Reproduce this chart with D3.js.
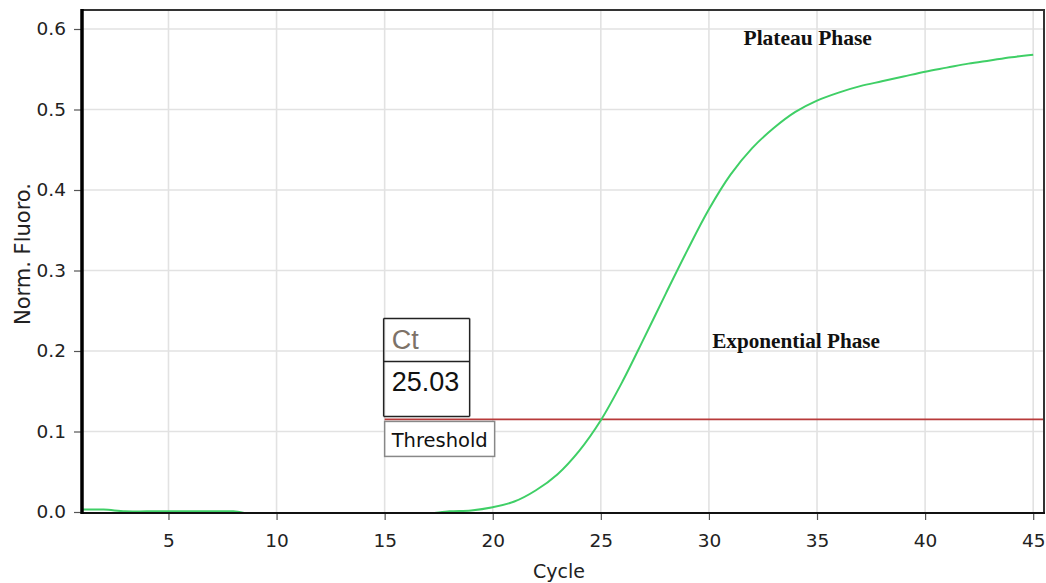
<!DOCTYPE html>
<html>
<head>
<meta charset="utf-8">
<script src="https://cdn.jsdelivr.net/npm/d3@7"></script>
<style>
  html, body { margin: 0; padding: 0; background: #fff; }
  svg { display: block; }
</style>
</head>
<body>
<svg id="chart" width="1046" height="583"></svg>
<script>
// ---- data ----
const cycles = d3.range(1, 46);
const fluoro = [
  0.003, 0.003, 0.0008, 0.0008, 0.0008, 0.0008, 0.0008, 0.0008, -0.003, -0.003,
  -0.003, -0.003, -0.003, -0.003, -0.003, -0.003, -0.002, 0.0008, 0.002, 0.006,
  0.013, 0.027, 0.047, 0.076, 0.114, 0.162, 0.216, 0.271, 0.325, 0.376,
  0.419, 0.452, 0.477, 0.497, 0.511, 0.521, 0.529, 0.535, 0.541, 0.547,
  0.552, 0.557, 0.561, 0.565, 0.568
];
const xTicks = [5, 10, 15, 20, 25, 30, 35, 40, 45];
const yTicks = [0.0, 0.1, 0.2, 0.3, 0.4, 0.5, 0.6];
const threshold = 0.115;
const thresholdStart = 15;
const ctValue = "25.03";
const phaseLabels = [
  { text: "Plateau Phase", cycle: 31.6, value: 0.580, size: 21.5 },
  { text: "Exponential Phase", cycle: 30.15, value: 0.2035, size: 21.2 }
];

// ---- layout ----
const svg = d3.select("#chart");
const L = 82, R = 1044, T = 10, B = 512;
const x = d3.scaleLinear().domain([1, 45.5]).range([L, R]);
const y = d3.scaleLinear().domain([0, 0.6236]).range([B, T]);

// gridlines
svg.append("g").selectAll("line").data(xTicks).join("line")
  .attr("x1", d => x(d)).attr("x2", d => x(d))
  .attr("y1", T).attr("y2", B)
  .attr("stroke", "#e2e2e2").attr("stroke-width", 1.6);
svg.append("g").selectAll("line").data(yTicks.filter(d => d > 0)).join("line")
  .attr("x1", L).attr("x2", R)
  .attr("y1", d => y(d)).attr("y2", d => y(d))
  .attr("stroke", "#e2e2e2").attr("stroke-width", 1.6);

// clip
svg.append("clipPath").attr("id", "clip").append("rect")
  .attr("x", L).attr("y", T).attr("width", R - L).attr("height", B - T);

// threshold line
svg.append("line")
  .attr("x1", x(thresholdStart)).attr("x2", R)
  .attr("y1", y(threshold)).attr("y2", y(threshold))
  .attr("stroke", "#b83a3a").attr("stroke-width", 1.6);

// curve
const pts = cycles.map((c, i) => [c, fluoro[i]]);
svg.append("path")
  .datum(pts)
  .attr("clip-path", "url(#clip)")
  .attr("fill", "none")
  .attr("stroke", "#3fcf66")
  .attr("stroke-width", 2)
  .attr("d", d3.line().x(d => x(d[0])).y(d => y(d[1])).curve(d3.curveCatmullRom.alpha(0.5)));

// axes
const xAxis = d3.axisBottom(x).tickValues(xTicks).tickSize(7).tickPadding(14)
  .tickFormat(d3.format("d"));
const gx = svg.append("g").attr("transform", `translate(0,${B + 1})`).call(xAxis);
gx.select(".domain").remove();
gx.selectAll("line").attr("stroke", "#555").attr("stroke-width", 1.2);
gx.selectAll("text").attr("font-family", "DejaVu Sans").attr("font-size", 18.5).attr("fill", "#222");

const yAxis = d3.axisLeft(y).tickValues(yTicks).tickSize(7).tickPadding(8)
  .tickFormat(d3.format(".1f"));
const gy = svg.append("g").attr("transform", `translate(${L - 1},0)`).call(yAxis);
gy.select(".domain").remove();
gy.selectAll("line").attr("stroke", "#555").attr("stroke-width", 1.2);
gy.selectAll("text").attr("font-family", "DejaVu Sans").attr("font-size", 18.5).attr("fill", "#222");

// frame
svg.append("line").attr("x1", L).attr("x2", R + 1).attr("y1", T).attr("y2", T)
  .attr("stroke", "#333").attr("stroke-width", 2);
svg.append("line").attr("x1", R).attr("x2", R).attr("y1", T).attr("y2", B + 1)
  .attr("stroke", "#333").attr("stroke-width", 2);
svg.append("line").attr("x1", L).attr("x2", R + 1).attr("y1", B + 1).attr("y2", B + 1)
  .attr("stroke", "#111").attr("stroke-width", 2);
svg.append("line").attr("x1", L).attr("x2", L).attr("y1", T - 1).attr("y2", B + 2)
  .attr("stroke", "#000").attr("stroke-width", 3.5);

// axis titles
svg.append("text").attr("x", (L + R) / 2 - 4).attr("y", 578)
  .attr("text-anchor", "middle").attr("font-family", "DejaVu Sans").attr("font-size", 19)
  .attr("fill", "#222").text("Cycle");
svg.append("text").attr("transform", "translate(30,254) rotate(-90)")
  .attr("text-anchor", "middle").attr("font-family", "DejaVu Sans").attr("font-size", 21)
  .attr("fill", "#222").text("Norm. Fluoro.");

// Ct box
const bx = x(thresholdStart) - 1, bw = 86;
const yBot = y(threshold) - 3, yMid = yBot - 55, yTop = yBot - 98;
const ct = svg.append("g");
ct.append("line").attr("x1", bx).attr("x2", bx + bw).attr("y1", yTop).attr("y2", yTop).attr("stroke", "#222").attr("stroke-width", 1.5);
ct.append("line").attr("x1", bx).attr("x2", bx + bw).attr("y1", yMid).attr("y2", yMid).attr("stroke", "#222").attr("stroke-width", 1.5);
ct.append("line").attr("x1", bx).attr("x2", bx + bw).attr("y1", yBot).attr("y2", yBot).attr("stroke", "#222").attr("stroke-width", 1.5);
ct.append("line").attr("x1", bx).attr("x2", bx).attr("y1", yTop).attr("y2", yBot).attr("stroke", "#222").attr("stroke-width", 1.5);
ct.append("line").attr("x1", bx + bw).attr("x2", bx + bw).attr("y1", yTop).attr("y2", yBot).attr("stroke", "#222").attr("stroke-width", 1.5);
ct.append("text").attr("x", bx + 8).attr("y", yTop + 31)
  .attr("font-family", "Liberation Sans").attr("font-size", 27).attr("fill", "#7d7268").text("Ct");
ct.append("text").attr("x", bx + 8).attr("y", yMid + 30)
  .attr("font-family", "Liberation Sans").attr("font-size", 27).attr("fill", "#111").text(ctValue);

// Threshold label
const ty = y(threshold) + 2;
svg.append("rect").attr("x", x(thresholdStart)).attr("y", ty)
  .attr("width", 110).attr("height", 35)
  .attr("fill", "#fff").attr("stroke", "#888").attr("stroke-width", 1.5);
svg.append("text").attr("x", x(thresholdStart) + 7).attr("y", ty + 26)
  .attr("font-family", "DejaVu Sans").attr("font-size", 19.5).attr("fill", "#111").text("Threshold");

// phase labels
svg.append("g").selectAll("text").data(phaseLabels).join("text")
  .attr("x", d => x(d.cycle)).attr("y", d => y(d.value))
  .attr("font-family", "Liberation Serif").attr("font-weight", "bold").attr("font-size", d => d.size)
  .attr("fill", "#111").text(d => d.text);
</script>
</body>
</html>
